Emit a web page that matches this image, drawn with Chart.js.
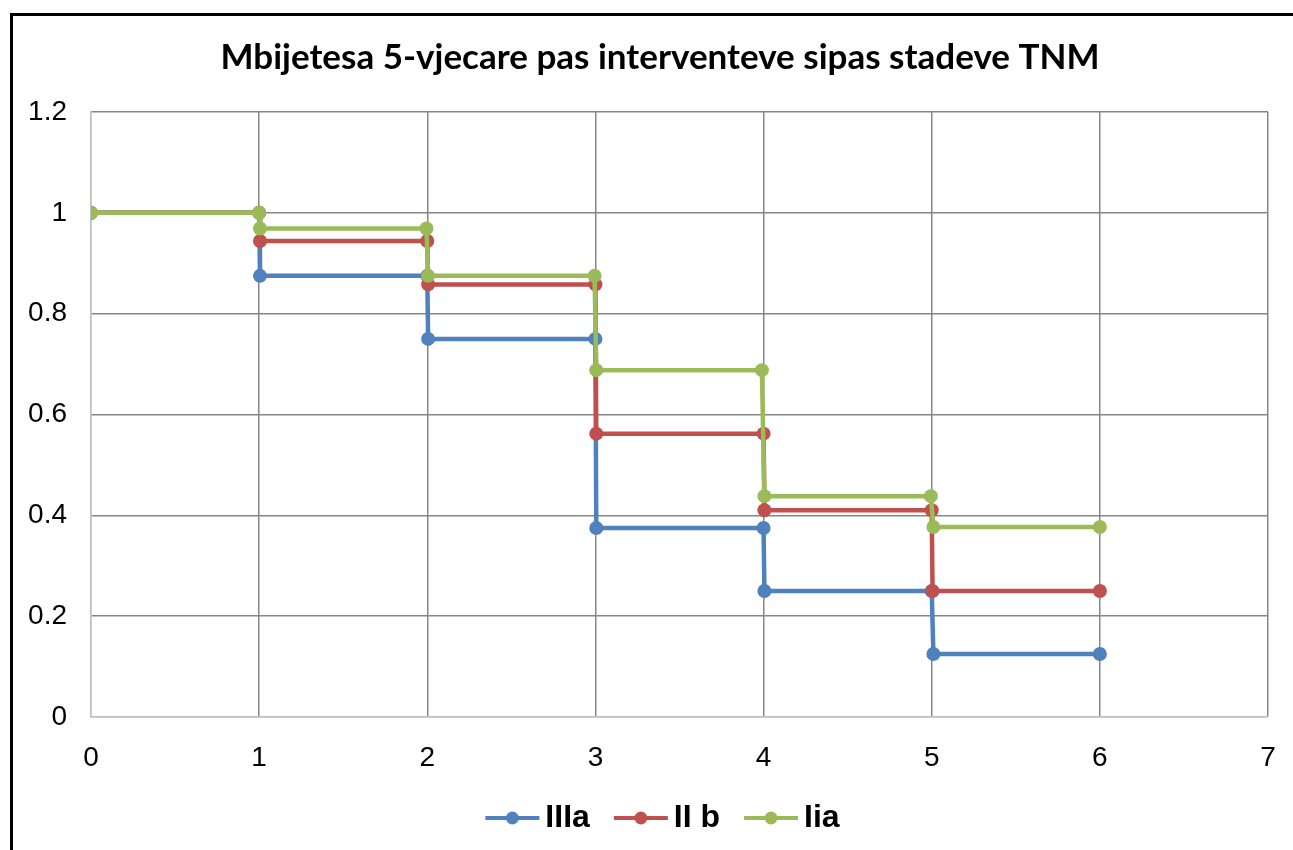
<!DOCTYPE html>
<html>
<head>
<meta charset="utf-8">
<script src="https://cdn.jsdelivr.net/npm/chart.js@4/dist/chart.umd.min.js"></script>
<style>
  html, body { margin: 0; padding: 0; background: #fff; overflow: hidden; }
  #frame {
    position: absolute;
    left: 10px;
    top: 13px;
    width: 1300px;
    height: 900px;
    border: 3px solid #000;
  }
  #chart-box { position: absolute; left: 0; top: 0; width: 1290px; height: 834px; }
</style>
</head>
<body>
<div id="frame">
  <div id="chart-box"><canvas id="survival"></canvas></div>
</div>
<script>
const chartTitle = 'Mbijetesa 5-vjecare pas interventeve sipas stadeve TNM';

const seriesNames = ['IIIa', 'II b', 'Iia'];
const seriesColors = ['#4F81BD', '#C0504D', '#9BBB59'];

// time (years) of each point, every drop is drawn as two points
const timesIIIa = [0, 1, 1.005, 2, 2.005, 3, 3.005, 4, 4.005, 5, 5.01, 6];
const timesIIb = [0, 1, 1.005, 2, 2.005, 3, 3.005, 4, 4.005, 5, 5.005, 6];
const timesIia = [0, 1, 1.005, 1.995, 2.005, 2.995, 3.005, 3.99, 4.005, 4.995, 5.01, 6];

const survivalIIIa = [1, 1, 0.875, 0.875, 0.75, 0.75, 0.375, 0.375, 0.25, 0.25, 0.125, 0.125];
const survivalIIb = [1, 1, 0.944, 0.944, 0.858, 0.858, 0.562, 0.562, 0.41, 0.41, 0.25, 0.25];
const survivalIia = [1, 1, 0.969, 0.969, 0.875, 0.875, 0.688, 0.688, 0.438, 0.438, 0.377, 0.377];

const xTickLabels = ['0', '1', '2', '3', '4', '5', '6', '7'];
const yTickLabels = ['0', '0.2', '0.4', '0.6', '0.8', '1', '1.2'];

const allTimes = [timesIIIa, timesIIb, timesIia];
const allSurvival = [survivalIIIa, survivalIIb, survivalIia];

function toPoints(times, values) {
  return times.map((t, i) => ({ x: t, y: values[i] }));
}

// line + dot picture for the legend, drawn a bit to the right inside its canvas
function legendMarker(color) {
  const c = document.createElement('canvas');
  c.width = 71;
  c.height = 16;
  const g = c.getContext('2d');
  g.strokeStyle = color;
  g.lineWidth = 4;
  g.beginPath();
  g.moveTo(16, 8);
  g.lineTo(70, 8);
  g.stroke();
  g.fillStyle = color;
  g.beginPath();
  g.arc(43, 8, 6.5, 0, Math.PI * 2);
  g.fill();
  return c;
}

const gridDark = '#868686';
const gridLight = '#BFBFBF';
const tickFont = { family: 'Liberation Sans, Arial', size: 28 };

const datasets = seriesNames.map((name, i) => ({
  label: name,
  data: toPoints(allTimes[i], allSurvival[i]),
  yAxisID: 'y',
  borderColor: seriesColors[i],
  backgroundColor: seriesColors[i],
  borderWidth: 4.5,
  pointRadius: 7,
  pointHoverRadius: 7,
  pointBorderWidth: 0,
  pointBackgroundColor: seriesColors[i],
  tension: 0,
  fill: false,
  order: seriesNames.length - i,
}));

new Chart(document.getElementById('survival'), {
  type: 'line',
  data: { datasets },
  options: {
    responsive: true,
    maintainAspectRatio: false,
    animation: false,
    layout: { padding: { left: 7, right: 3, top: 0, bottom: 6 } },
    scales: {
      x: {
        type: 'linear',
        min: 0,
        max: 7,
        afterFit: scale => { scale.height = 66; },
        ticks: {
          stepSize: 1,
          padding: 24,
          color: '#000',
          font: tickFont,
          callback: (v, idx) => xTickLabels[idx],
        },
        grid: {
          drawTicks: false,
          lineWidth: 1.5,
          color: ctx => (ctx.tick && ctx.tick.value === 0 ? gridLight : gridDark),
        },
        border: { color: gridLight, width: 1.5 },
      },
      y: {
        position: 'left',
        min: 0,
        max: 1.2,
        afterFit: scale => { scale.width = 71; },
        ticks: {
          stepSize: 0.2,
          padding: 24,
          color: '#000',
          font: tickFont,
          callback: (v, idx) => yTickLabels[idx],
        },
        grid: {
          drawTicks: false,
          lineWidth: 1.5,
          color: ctx => (ctx.tick && ctx.tick.value === 0 ? gridLight : gridDark),
        },
        border: { color: gridLight, width: 1.5 },
      },
      // empty space on the right so the title sits where it does in Excel
      yRight: {
        position: 'right',
        afterFit: scale => { scale.width = 32; },
        ticks: { display: false },
        grid: { display: false },
        border: { display: false },
      },
    },
    plugins: {
      title: {
        display: true,
        text: chartTitle,
        color: '#000',
        font: { family: 'Lato', size: 35, weight: 'bold' },
        padding: { top: 21, bottom: 33 },
      },
      legend: {
        position: 'bottom',
        labels: {
          usePointStyle: true,
          pointStyleWidth: 49,
          padding: 19,
          color: '#000',
          font: { family: 'Liberation Sans, Arial', size: 32, weight: 'bold' },
          generateLabels: chart =>
            chart.data.datasets.map((ds, i) => ({
              text: ds.label,
              fillStyle: ds.borderColor,
              strokeStyle: ds.borderColor,
              lineWidth: 0,
              pointStyle: legendMarker(ds.borderColor),
              hidden: !chart.isDatasetVisible(i),
              datasetIndex: i,
              fontColor: '#000',
            })),
        },
      },
      tooltip: { enabled: false },
    },
  },
});
</script>
</body>
</html>
